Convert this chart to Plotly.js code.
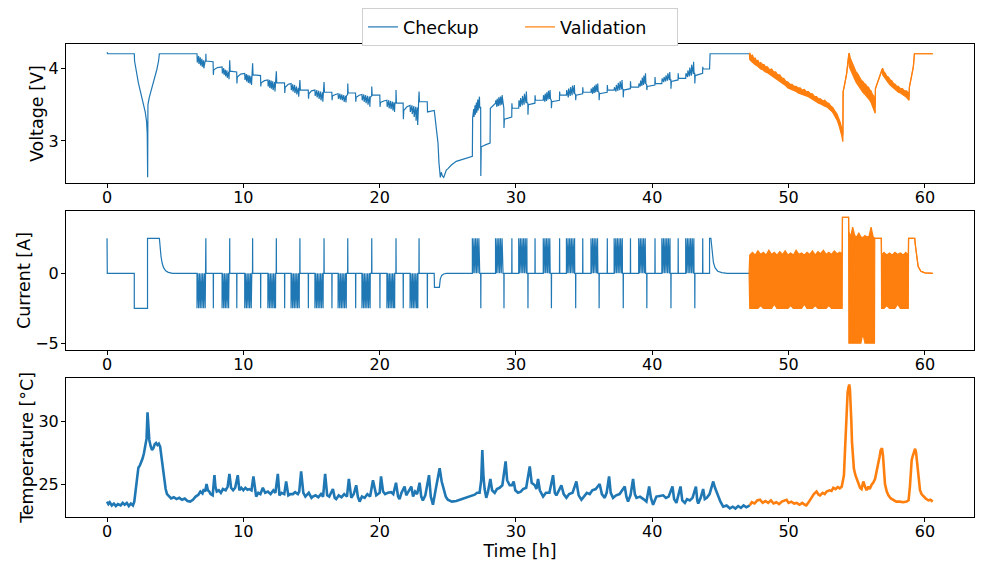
<!DOCTYPE html>
<html><head><meta charset="utf-8">
<script src="https://cdn.plot.ly/plotly-3.0.1.min.js"></script>
<style>html,body{margin:0;padding:0;background:#fff}#chart{width:984px;height:561px}</style>
</head><body><div id="chart"></div>
<script>
const xTicks = [0,10,20,30,40,50,60];
const seriesNames = ['Checkup','Validation'];

// Checkup voltage [time h, V]
const chkVoltage = [
[0,4.22],[0.04,4.2],[2.0,4.2],[2.02,4.1],[2.3,3.8],[2.6,3.56],[2.8,3.4],[2.9,3.27],[2.95,3.1],[2.98,2.5],[3.0,3.5],[3.1,3.6],[3.25,3.7],[3.45,3.83],[3.65,3.98],[3.78,4.1],[3.84,4.2],[6.6,4.2],
[6.62,4.08],[6.72,4.17],[6.74,4.06],[6.84,4.15],[6.86,4.04],[6.96,4.13],[6.98,4.02],[7.08,4.11],[7.1,4.0],[7.2,4.1],
[7.24,4.1],[7.25,4.2],[7.27,4.1],[7.78,4.09],[7.8,3.91],[7.83,3.98],[8.1,4.01],[8.44,4.02],
[8.46,3.93],[8.56,4.0],[8.58,3.91],[8.68,3.98],[8.7,3.89],[8.8,3.97],[8.82,3.87],[8.93,3.95],[8.95,3.85],[8.98,3.95],
[9.0,4.11],[9.03,3.96],[9.51,3.95],[9.53,3.79],[9.56,3.88],[9.8,3.92],[10.1,3.93],
[10.12,3.84],[10.22,3.92],[10.24,3.82],[10.34,3.91],[10.36,3.8],[10.46,3.9],[10.48,3.79],[10.58,3.89],[10.6,3.77],[10.63,3.88],
[10.68,4.07],[10.71,3.91],[11.26,3.9],[11.28,3.75],[11.31,3.8],[11.55,3.83],[11.8,3.84],
[11.82,3.75],[11.92,3.84],[11.94,3.73],[12.04,3.83],[12.06,3.72],[12.16,3.82],[12.18,3.7],[12.3,3.81],[12.32,3.68],[12.36,3.8],
[12.41,3.8],[12.42,3.96],[12.45,3.8],[13.02,3.8],[13.04,3.66],[13.07,3.74],[13.3,3.78],[13.5,3.79],
[13.52,3.7],[13.62,3.78],[13.64,3.68],[13.76,3.77],[13.78,3.66],[13.9,3.75],[13.92,3.64],[14.04,3.73],[14.06,3.61],[14.1,3.72],
[14.14,3.71],[14.15,3.84],[14.18,3.7],[14.76,3.7],[14.78,3.58],[14.81,3.65],[15.0,3.69],[15.25,3.7],
[15.27,3.62],[15.39,3.7],[15.41,3.6],[15.53,3.69],[15.55,3.58],[15.67,3.68],[15.69,3.56],[15.81,3.67],[15.83,3.54],[15.86,3.66],
[15.91,3.66],[15.92,3.81],[15.95,3.67],[16.49,3.67],[16.51,3.56],[16.54,3.62],[16.75,3.64],[16.95,3.65],
[16.97,3.58],[17.09,3.65],[17.11,3.57],[17.23,3.64],[17.25,3.56],[17.37,3.63],[17.39,3.54],[17.51,3.62],[17.53,3.53],[17.56,3.62],
[17.65,3.64],[17.66,3.79],[17.69,3.66],[18.23,3.66],[18.25,3.54],[18.28,3.6],[18.5,3.63],[18.7,3.64],
[18.72,3.56],[18.84,3.64],[18.86,3.54],[18.98,3.63],[19.0,3.52],[19.12,3.62],[19.14,3.5],[19.26,3.61],[19.28,3.47],[19.31,3.6],
[19.41,3.62],[19.42,3.75],[19.45,3.63],[20.01,3.63],[20.03,3.47],[20.06,3.53],[20.3,3.55],[20.53,3.56],
[20.55,3.47],[20.67,3.56],[20.69,3.45],[20.81,3.55],[20.83,3.44],[20.95,3.54],[20.97,3.42],[21.07,3.53],[21.09,3.4],[21.12,3.52],
[21.19,3.53],[21.2,3.7],[21.23,3.52],[21.72,3.52],[21.74,3.3],[21.77,3.42],[22.0,3.47],[22.23,3.49],
[22.25,3.4],[22.37,3.49],[22.39,3.37],[22.51,3.48],[22.53,3.33],[22.65,3.47],[22.67,3.28],[22.77,3.46],[22.79,3.22],[22.82,3.45],
[22.88,3.5],[22.89,3.68],[22.92,3.54],[23.49,3.54],[23.51,3.4],[23.7,3.41],[24.0,3.42],
[24.03,3.38],[24.15,3.2],[24.28,2.97],[24.35,2.7],[24.4,2.52],[24.45,2.5],[24.52,2.57],[24.6,2.52],[24.7,2.5],[24.77,2.54],[24.89,2.6],[25.01,2.62],[25.26,2.67],[25.62,2.72],[26.11,2.75],[26.6,2.78],[26.8,2.79],
[26.82,3.32],[26.9,3.44],[26.92,3.33],[27.0,3.49],[27.02,3.36],[27.1,3.53],[27.12,3.39],[27.2,3.57],[27.22,3.42],[27.32,3.61],[27.34,3.45],
[27.41,3.47],[27.42,2.52],[27.45,2.92],[27.8,2.95],[28.1,2.97],[28.12,3.45],[28.5,3.52],
[28.52,3.56],[28.6,3.47],[28.62,3.58],[28.72,3.48],[28.74,3.6],[28.84,3.49],[28.86,3.61],[28.96,3.5],[28.98,3.63],[29.05,3.5],
[29.11,3.45],[29.12,3.18],[29.15,3.3],[29.69,3.33],[29.7,3.52],[29.73,3.45],[30.2,3.45],
[30.22,3.56],[30.32,3.47],[30.34,3.59],[30.46,3.49],[30.48,3.62],[30.6,3.5],[30.62,3.65],[30.74,3.52],[30.76,3.68],[30.8,3.53],
[30.87,3.52],[30.88,3.36],[30.91,3.5],[31.39,3.52],[31.4,3.63],[31.43,3.56],[32.0,3.56],
[32.02,3.63],[32.12,3.54],[32.14,3.65],[32.24,3.55],[32.26,3.67],[32.36,3.57],[32.38,3.69],[32.48,3.58],[32.5,3.7],[32.53,3.58],
[32.59,3.56],[32.6,3.45],[32.63,3.54],[33.19,3.56],[33.2,3.68],[33.23,3.63],[33.7,3.63],
[33.72,3.7],[33.84,3.6],[33.86,3.72],[33.98,3.62],[34.0,3.74],[34.12,3.63],[34.14,3.76],[34.26,3.65],[34.28,3.77],[34.31,3.65],
[34.37,3.64],[34.38,3.56],[34.41,3.63],[34.89,3.65],[34.9,3.74],[34.93,3.67],[35.5,3.67],
[35.52,3.72],[35.62,3.65],[35.64,3.74],[35.74,3.66],[35.76,3.76],[35.86,3.67],[35.88,3.78],[35.98,3.68],[36.0,3.79],[36.03,3.68],
[36.09,3.67],[36.1,3.56],[36.13,3.65],[36.69,3.67],[36.7,3.77],[36.73,3.7],[37.2,3.7],
[37.22,3.74],[37.34,3.68],[37.36,3.77],[37.48,3.69],[37.5,3.8],[37.62,3.7],[37.64,3.82],[37.76,3.71],[37.78,3.84],[37.81,3.72],
[37.86,3.71],[37.87,3.6],[37.9,3.7],[38.39,3.72],[38.4,3.82],[38.43,3.74],[39.0,3.74],
[39.02,3.79],[39.12,3.75],[39.14,3.83],[39.24,3.76],[39.26,3.87],[39.36,3.77],[39.38,3.9],[39.48,3.79],[39.5,3.93],[39.53,3.79],
[39.59,3.77],[39.6,3.7],[39.63,3.75],[40.19,3.77],[40.2,3.88],[40.23,3.79],[40.7,3.79],
[40.72,3.86],[40.84,3.81],[40.86,3.88],[40.98,3.82],[41.0,3.9],[41.12,3.83],[41.14,3.93],[41.26,3.84],[41.28,3.95],[41.31,3.84],
[41.36,3.84],[41.37,3.72],[41.4,3.82],[41.89,3.84],[41.9,3.93],[41.93,3.86],[42.45,3.86],
[42.47,3.93],[42.59,3.88],[42.61,3.97],[42.73,3.89],[42.75,4.01],[42.87,3.9],[42.89,4.05],[43.01,3.92],[43.03,4.09],[43.06,3.93],
[43.11,3.93],[43.12,3.79],[43.15,3.9],[43.69,3.93],[43.7,4.02],[43.73,3.99],[44.2,3.99],[44.24,4.2],[47.15,4.2]
];

// Checkup current [time h, A]
const chkCurrent = [
[0,2.5],[0.02,0],[2.0,0],[2.0,-2.5],[2.97,-2.5],[2.97,2.5],[3.84,2.5],[3.9,1.8],[3.96,1.2],[4.05,0.7],[4.15,0.4],[4.3,0.18],[4.5,0.07],[4.8,0],[6.6,0],
[6.6,-2.5],[6.66,0],[6.72,-2.5],[6.78,0],[6.84,-2.5],[6.9,0],[6.96,-2.5],[7.02,0],[7.08,-2.5],[7.14,0],[7.2,-2.5],[7.21,0],[7.24,0],[7.25,2.5],[7.26,0],[7.79,0],[7.8,-2.5],[7.81,0],
[8.44,0],[8.44,-2.5],[8.5,0],[8.56,-2.5],[8.62,0],[8.68,-2.5],[8.74,0],[8.8,-2.5],[8.86,0],[8.92,-2.5],[8.95,0],[8.99,0],[9.0,2.5],[9.01,0],[9.51,0],[9.52,-2.5],[9.53,0],
[10.1,0],[10.1,-2.5],[10.16,0],[10.22,-2.5],[10.28,0],[10.34,-2.5],[10.4,0],[10.46,-2.5],[10.52,0],[10.58,-2.5],[10.62,0],[10.67,0],[10.68,2.5],[10.69,0],[11.26,0],[11.27,-2.5],[11.28,0],
[11.8,0],[11.8,-2.5],[11.86,0],[11.92,-2.5],[11.98,0],[12.04,-2.5],[12.1,0],[12.16,-2.5],[12.22,0],[12.28,-2.5],[12.34,0],[12.36,-2.5],[12.37,0],[12.41,0],[12.42,2.5],[12.43,0],[13.02,0],[13.03,-2.5],[13.04,0],
[13.5,0],[13.5,-2.5],[13.56,0],[13.62,-2.5],[13.68,0],[13.74,-2.5],[13.8,0],[13.86,-2.5],[13.92,0],[13.98,-2.5],[14.04,0],[14.1,-2.5],[14.11,0],[14.14,0],[14.15,2.5],[14.16,0],[14.76,0],[14.77,-2.5],[14.78,0],
[15.25,0],[15.25,-2.5],[15.31,0],[15.37,-2.5],[15.43,0],[15.49,-2.5],[15.55,0],[15.61,-2.5],[15.67,0],[15.73,-2.5],[15.79,0],[15.85,-2.5],[15.86,0],[15.91,0],[15.92,2.5],[15.93,0],[16.49,0],[16.5,-2.5],[16.51,0],
[16.95,0],[16.95,-2.5],[17.01,0],[17.07,-2.5],[17.13,0],[17.19,-2.5],[17.25,0],[17.31,-2.5],[17.37,0],[17.43,-2.5],[17.49,0],[17.55,-2.5],[17.56,0],[17.65,0],[17.66,2.5],[17.67,0],[18.23,0],[18.24,-2.5],[18.25,0],
[18.7,0],[18.7,-2.5],[18.76,0],[18.82,-2.5],[18.88,0],[18.94,-2.5],[19.0,0],[19.06,-2.5],[19.12,0],[19.18,-2.5],[19.24,0],[19.3,-2.5],[19.31,0],[19.41,0],[19.42,2.5],[19.43,0],[20.01,0],[20.02,-2.5],[20.03,0],
[20.53,0],[20.53,-2.5],[20.59,0],[20.65,-2.5],[20.71,0],[20.77,-2.5],[20.83,0],[20.89,-2.5],[20.95,0],[21.01,-2.5],[21.07,0],[21.1,-2.5],[21.11,0],[21.19,0],[21.2,2.5],[21.21,0],[21.72,0],[21.73,-2.5],[21.74,0],
[22.23,0],[22.23,-2.5],[22.29,0],[22.35,-2.5],[22.41,0],[22.47,-2.5],[22.53,0],[22.59,-2.5],[22.65,0],[22.71,-2.5],[22.77,0],[22.8,-2.5],[22.81,0],[22.88,0],[22.89,2.5],[22.9,0],[23.49,0],[23.5,-2.5],[23.51,0],
[24.0,0],[24.02,-1.0],[24.38,-1.0],[24.45,-0.4],[24.55,-0.15],[24.7,-0.05],[24.9,0],[26.8,0],
[26.8,2.5],[26.86,0],[26.92,2.5],[26.98,0],[27.04,2.5],[27.1,0],[27.16,2.5],[27.22,0],[27.28,2.5],[27.34,0],[27.41,0],[27.42,-2.5],[27.43,0],[28.5,0],
[28.5,2.5],[28.56,0],[28.62,2.5],[28.68,0],[28.74,2.5],[28.8,0],[28.86,2.5],[28.92,0],[28.98,2.5],[29.05,0],[29.11,0],[29.12,-2.5],[29.13,0],[29.69,0],[29.7,2.5],[29.71,0],[30.2,0],
[30.2,2.5],[30.26,0],[30.32,2.5],[30.38,0],[30.44,2.5],[30.5,0],[30.56,2.5],[30.62,0],[30.68,2.5],[30.74,0],[30.8,2.5],[30.81,0],[30.87,0],[30.88,-2.5],[30.89,0],[31.39,0],[31.4,2.5],[31.41,0],[32.0,0],
[32.0,2.5],[32.06,0],[32.12,2.5],[32.18,0],[32.24,2.5],[32.3,0],[32.36,2.5],[32.42,0],[32.48,2.5],[32.51,0],[32.59,0],[32.6,-2.5],[32.61,0],[33.19,0],[33.2,2.5],[33.21,0],[33.7,0],
[33.7,2.5],[33.76,0],[33.82,2.5],[33.88,0],[33.94,2.5],[34.0,0],[34.06,2.5],[34.12,0],[34.18,2.5],[34.24,0],[34.3,2.5],[34.31,0],[34.37,0],[34.38,-2.5],[34.39,0],[34.89,0],[34.9,2.5],[34.91,0],[35.5,0],
[35.5,2.5],[35.56,0],[35.62,2.5],[35.68,0],[35.74,2.5],[35.8,0],[35.86,2.5],[35.92,0],[35.98,2.5],[36.01,0],[36.09,0],[36.1,-2.5],[36.11,0],[36.69,0],[36.7,2.5],[36.71,0],[37.2,0],
[37.2,2.5],[37.26,0],[37.32,2.5],[37.38,0],[37.44,2.5],[37.5,0],[37.56,2.5],[37.62,0],[37.68,2.5],[37.74,0],[37.8,2.5],[37.81,0],[37.86,0],[37.87,-2.5],[37.88,0],[38.39,0],[38.4,2.5],[38.41,0],[39.0,0],
[39.0,2.5],[39.06,0],[39.12,2.5],[39.18,0],[39.24,2.5],[39.3,0],[39.36,2.5],[39.42,0],[39.48,2.5],[39.51,0],[39.59,0],[39.6,-2.5],[39.61,0],[40.19,0],[40.2,2.5],[40.21,0],[40.7,0],
[40.7,2.5],[40.76,0],[40.82,2.5],[40.88,0],[40.94,2.5],[41.0,0],[41.06,2.5],[41.12,0],[41.18,2.5],[41.24,0],[41.3,2.5],[41.31,0],[41.36,0],[41.37,-2.5],[41.38,0],[41.89,0],[41.9,2.5],[41.91,0],[42.45,0],
[42.45,2.5],[42.51,0],[42.57,2.5],[42.63,0],[42.69,2.5],[42.75,0],[42.81,2.5],[42.87,0],[42.93,2.5],[42.99,0],[43.05,2.5],[43.06,0],[43.11,0],[43.12,-2.5],[43.13,0],[43.69,0],[43.7,2.5],[43.71,0],[44.2,0],
[44.2,2.5],[44.3,2.5],[44.38,1.5],[44.48,0.8],[44.6,0.4],[44.8,0.15],[45.1,0.05],[45.5,0],[47.15,0]
];

// Checkup temperature [time h, degC]
const chkTemperature = [
[0.0,23.6],[0.1,23.4],[0.2,23.55],[0.35,23.3],[0.5,23.45],[0.65,23.25],[0.8,23.4],[1.0,23.3],[1.15,23.5],[1.3,23.35],[1.45,23.5],[1.6,23.25],[1.75,23.45],[1.9,23.3],[2.0,23.6],
[2.1,24.6],[2.2,25.8],[2.3,26.3],[2.4,26.45],[2.5,26.7],[2.6,27.0],[2.7,27.4],[2.8,27.9],[2.9,28.6],[2.97,30.7],[3.03,29.2],[3.1,28.5],[3.2,28.0],[3.3,27.7],[3.4,27.85],[3.5,28.15],[3.6,28.25],[3.7,28.1],[3.8,28.2],[3.9,27.95],
[4.0,27.1],[4.1,26.3],[4.2,25.3],[4.3,24.6],[4.4,24.2],[4.5,24.05],[4.7,23.85],[4.9,23.95],[5.1,23.8],[5.3,23.9],[5.5,23.75],[5.7,23.85],[5.9,23.65],[6.1,23.6],[6.3,23.75],[6.5,24.0],[6.7,24.15],[6.85,24.4],[7.0,24.25],[7.1,24.6],[7.2,24.4],[7.3,25.0],[7.4,24.5],[7.5,24.4],[7.6,24.2],[7.75,24.1],[7.88,25.7],[7.95,24.8],
[8.05,24.4],[8.2,24.5],[8.35,24.3],[8.5,24.6],[8.7,24.5],[8.85,24.8],[8.98,25.8],[9.1,24.7],[9.25,24.5],[9.4,24.7],[9.59,25.7],[9.71,24.5],[9.85,24.7],[10.0,24.5],[10.15,24.7],[10.3,24.55],[10.45,24.6],[10.6,24.5],[10.74,25.6],[10.94,24.0],
[11.1,24.3],[11.25,24.2],[11.43,24.7],[11.6,24.3],[11.8,24.4],[12.0,24.2],[12.2,24.5],[12.35,24.3],[12.53,25.8],[12.65,24.1],[12.8,24.3],[13.0,24.2],[13.14,25.2],[13.3,24.1],[13.45,24.2],[13.63,24.2],[13.8,24.35],[14.0,24.2],[14.1,24.4],[14.24,26.0],[14.4,24.3],[14.55,24.0],[14.8,24.3],
[15.0,23.9],[15.1,24.0],[15.3,24.1],[15.5,23.95],[15.7,24.2],[15.85,24.0],[16.0,25.8],[16.15,24.1],[16.3,24.0],[16.57,24.6],[16.7,23.9],[16.81,23.8],[17.0,24.1],[17.2,23.95],[17.4,24.2],[17.6,24.0],[17.74,25.4],[17.92,23.9],[18.1,24.2],[18.28,24.9],[18.4,24.0],[18.53,23.6],[18.7,24.0],[18.9,23.9],[19.1,24.2],[19.3,24.0],[19.51,25.3],[19.75,24.1],
[20.0,24.3],[20.1,25.6],[20.25,24.4],[20.4,24.2],[20.6,24.3],[20.85,24.35],[21.0,24.2],[21.2,25.1],[21.35,24.0],[21.46,23.8],[21.6,24.3],[21.83,24.8],[21.95,24.1],[22.1,24.4],[22.32,24.8],[22.45,24.0],[22.6,24.4],[22.75,24.2],[22.93,25.1],[23.05,24.0],[23.17,23.7],[23.35,24.1],[23.62,25.7],[23.75,24.0],[23.91,23.35],
[24.1,24.5],[24.25,25.3],[24.4,26.25],[24.55,25.2],[24.7,24.5],[24.85,24.0],[25.0,23.75],[25.3,23.6],[25.62,23.65],[25.9,23.75],[26.1,23.85],[26.36,23.9],[26.6,24.0],[26.8,24.1],[26.97,24.15],[27.15,24.3],[27.33,24.3],[27.45,25.3],[27.53,27.7],[27.62,25.5],[27.7,24.6],[27.82,23.9],[27.95,24.4],
[28.12,25.4],[28.25,24.5],[28.44,24.3],[28.6,24.6],[28.8,24.7],[29.0,24.9],[29.24,26.8],[29.35,25.3],[29.54,24.9],[29.7,24.9],[29.83,25.2],[29.95,24.5],[30.15,24.3],[30.35,24.4],[30.52,24.6],[30.75,24.7],[31.01,26.4],[31.15,25.1],[31.38,24.9],[31.5,24.6],[31.62,25.4],[31.75,24.5],[31.99,24.0],
[32.2,24.3],[32.45,24.3],[32.72,25.7],[32.85,24.3],[32.96,24.1],[33.15,24.5],[33.33,24.9],[33.5,24.2],[33.7,23.9],[33.9,24.2],[34.15,24.3],[34.43,25.2],[34.6,24.1],[34.8,23.75],[35.0,24.0],[35.2,24.3],[35.41,24.2],[35.6,24.5],[35.85,24.6],[36.14,25.0],[36.3,24.2],[36.51,23.9],[36.65,24.3],[36.83,25.6],[36.95,24.3],
[37.12,23.9],[37.35,24.1],[37.6,24.2],[37.98,24.8],[38.1,24.0],[38.22,23.6],[38.4,24.1],[38.59,25.4],[38.72,24.2],[38.84,23.9],[39.1,24.0],[39.35,23.8],[39.57,23.6],[39.77,24.8],[39.9,23.9],[40.06,23.35],[40.3,24.0],[40.55,24.05],[40.8,24.1],[41.0,23.9],[41.2,24.0],[41.48,24.8],[41.6,23.8],[41.77,23.5],[41.9,24.0],
[42.07,24.8],[42.2,23.7],[42.39,23.5],[42.55,23.8],[42.75,23.7],[42.95,23.9],[43.2,24.8],[43.3,23.7],[43.37,23.45],[43.55,23.9],[43.73,24.6],[43.85,23.8],[44.0,23.9],[44.2,24.2],[44.47,25.2],[44.6,24.7],[44.84,24.0],[45.0,23.6],[45.2,23.2],[45.45,23.3],[45.69,23.07],[45.9,23.2],[46.1,23.05],[46.3,23.25],[46.5,23.1],[46.7,23.3],[46.9,23.15],[47.15,23.3]
];

// Validation voltage [time h, upper V, lower V] (noise band)
const valVoltage = [
[47.12,4.2,4.2],[47.15,4.21,4.12],[47.25,4.17,4.1],[47.35,4.18,4.08],[47.45,4.13,4.07],[47.55,4.14,4.05],[47.65,4.1,4.04],[47.75,4.11,4.02],[47.85,4.07,4.01],[47.95,4.08,3.99],[48.1,4.05,3.98],[48.2,4.05,3.96],[48.3,4.02,3.95],[48.45,4.02,3.94],[48.6,3.98,3.92],[48.75,3.99,3.9],[48.9,3.95,3.88],[49.05,3.95,3.87],[49.2,3.91,3.85],[49.35,3.91,3.83],[49.5,3.87,3.81],[49.65,3.86,3.78],[49.8,3.82,3.76],[49.95,3.81,3.73],[50.1,3.78,3.72],[50.25,3.78,3.7],[50.4,3.75,3.69],[50.55,3.75,3.68],[50.7,3.73,3.66],[50.85,3.73,3.65],[51.0,3.7,3.64],[51.15,3.71,3.64],[51.3,3.68,3.62],[51.45,3.68,3.61],[51.6,3.65,3.59],[51.75,3.65,3.57],[51.9,3.61,3.56],[52.05,3.61,3.54],[52.2,3.58,3.52],[52.35,3.58,3.51],[52.5,3.55,3.49],[52.65,3.56,3.48],[52.8,3.53,3.47],[52.95,3.52,3.45],[53.1,3.48,3.42],[53.25,3.46,3.39],[53.4,3.41,3.34],[53.55,3.37,3.29],[53.7,3.3,3.21],[53.8,3.25,3.15],[53.9,3.17,3.07],[53.98,3.08,2.99],
[54.0,3.68,3.68],[54.1,3.76,3.76],[54.26,3.93,3.93],[54.42,4.2,4.2],
[54.45,4.21,4.02],[54.52,4.14,3.99],[54.6,4.1,3.95],[54.68,4.06,3.91],[54.76,4.02,3.88],[54.85,3.99,3.85],[54.95,3.95,3.81],[55.05,3.93,3.78],[55.15,3.89,3.76],[55.25,3.87,3.72],[55.35,3.83,3.7],[55.45,3.82,3.67],[55.55,3.79,3.65],[55.65,3.78,3.63],[55.75,3.75,3.6],[55.86,3.74,3.58],[55.96,3.7,3.56],[56.05,3.69,3.53],[56.15,3.64,3.48],[56.25,3.62,3.45],[56.32,3.53,3.4],[56.35,3.5,3.38],
[56.37,3.72,3.72],[56.5,3.79,3.79],[56.66,3.86,3.86],[56.86,3.99,3.99],
[56.9,4.0,3.91],[57.0,3.95,3.88],[57.1,3.93,3.85],[57.2,3.89,3.82],[57.32,3.88,3.8],[57.45,3.84,3.77],[57.57,3.83,3.75],[57.7,3.79,3.72],[57.82,3.78,3.7],[57.93,3.75,3.68],[58.05,3.75,3.67],[58.2,3.72,3.66],[58.35,3.72,3.64],[58.5,3.69,3.63],[58.65,3.69,3.6],[58.79,3.66,3.57],[58.84,3.62,3.56],
[58.86,3.74,3.74],[59.0,3.86,3.86],[59.15,4.02,4.02],[59.23,4.2,4.2],[60.58,4.2,4.2]
];

// Validation current [time h, upper A, lower A] (pulse band)
const valCurrent = [
[47.10,0,0],[47.15,1.3,-2.5],[47.35,1.5,-2.5],[47.55,1.3,-2.5],[47.75,1.6,-2.5],[47.95,1.35,-2.3],[48.15,1.5,-2.5],[48.35,1.3,-2.5],[48.55,1.65,-2.5],[48.75,1.35,-2.5],[48.95,1.5,-2.2],[49.15,1.3,-2.5],[49.35,1.55,-2.5],[49.55,1.35,-2.5],[49.75,1.6,-2.5],[49.95,1.3,-2.5],[50.15,1.45,-2.3],[50.35,1.3,-2.5],[50.55,1.65,-2.5],[50.75,1.35,-2.5],[50.95,1.45,-2.5],[51.15,1.3,-2.2],[51.35,1.5,-2.5],[51.55,1.35,-2.5],[51.75,1.6,-2.5],[51.95,1.3,-2.3],[52.15,1.55,-2.5],[52.35,1.4,-2.5],[52.55,1.65,-2.5],[52.75,1.35,-2.5],[52.95,1.5,-2.3],[53.15,1.35,-2.5],[53.35,1.6,-2.5],[53.55,1.4,-2.5],[53.75,1.5,-2.5],[53.93,1.4,-2.5],
[53.95,4.0,4.0],[54.40,4.0,4.0],
[54.42,3.0,-5.0],[54.55,2.6,-5.0],[54.70,3.3,-5.0],[54.85,2.7,-5.0],[55.00,2.6,-5.0],[55.15,2.9,-5.0],[55.30,2.6,-5.0],[55.45,2.55,-4.3],[55.60,2.7,-5.0],[55.75,2.6,-5.0],[55.90,2.65,-5.0],[56.05,3.3,-5.0],[56.20,2.6,-5.0],[56.30,2.5,-5.0],
[56.32,2.5,2.5],[56.80,2.5,2.5],
[56.82,1.3,-2.5],[57.00,1.5,-2.5],[57.20,1.3,-2.3],[57.40,1.45,-2.5],[57.60,1.3,-2.5],[57.80,1.5,-2.5],[58.00,1.35,-2.2],[58.20,1.45,-2.5],[58.40,1.3,-2.5],[58.60,1.5,-2.5],[58.78,1.3,-2.5],
[58.80,2.5,2.5],[59.25,2.5,2.5],[59.30,2.0,2.0],[59.40,1.0,1.0],[59.50,0.5,0.5],[59.70,0.15,0.15],[60.00,0.03,0.03],[60.58,0,0]
];

// Validation temperature [time h, degC]
const valTemperature = [
[47.15,23.3],[47.3,23.55],[47.5,23.45],[47.7,23.7],[47.9,23.75],[48.1,23.5],[48.3,23.65],[48.5,23.5],[48.7,23.7],[48.9,23.45],[49.1,23.55],[49.3,23.4],[49.5,23.6],[49.7,23.7],[49.85,23.75],[50.0,23.5],[50.2,23.6],[50.4,23.45],[50.6,23.5],[50.8,23.35],[51.0,23.5],[51.2,23.35],[51.3,23.3],[51.5,23.6],[51.69,23.9],[51.85,24.2],[52.05,24.4],[52.2,24.15],[52.3,24.1],[52.5,24.3],[52.65,24.2],[52.79,24.4],[53.0,24.5],[53.15,24.45],[53.28,24.7],[53.45,24.6],[53.6,24.75],[53.75,24.65],[53.9,24.8],
[54.0,25.3],[54.06,25.7],[54.13,27.5],[54.2,29.7],[54.27,31.2],[54.33,32.3],[54.4,32.7],[54.45,32.9],[54.5,32.5],[54.55,31.5],[54.6,30.0],[54.65,28.3],[54.72,27.0],[54.79,26.2],[54.9,25.7],[54.99,25.4],[55.1,25.2],[55.24,24.7],[55.35,24.6],[55.48,25.2],[55.6,24.8],[55.72,24.5],[55.85,24.8],[55.95,24.6],[56.09,24.95],[56.2,25.1],[56.34,25.4],
[56.45,25.9],[56.58,26.5],[56.68,27.2],[56.76,27.7],[56.85,27.85],[56.92,27.3],[56.98,26.5],[57.07,25.0],[57.2,24.4],[57.32,24.1],[57.5,23.85],[57.69,23.7],[57.9,23.6],[58.17,23.6],[58.4,23.55],[58.66,23.6],[58.8,23.7],[58.9,24.8],[58.96,26.2],[59.03,26.9],[59.1,27.2],[59.2,27.6],[59.28,27.8],[59.35,27.5],[59.4,27.0],[59.46,26.3],[59.52,25.7],[59.58,25.0],[59.64,24.5],[59.75,24.2],[59.89,24.0],[60.05,23.85],[60.26,23.7],[60.4,23.75],[60.57,23.6]
];

const BLUE = '#1f77b4', ORANGE = '#ff7f0e';
const col = (a, i) => a.map(r => r[i]);

const traces = [
  {x: col(chkVoltage,0), y: col(chkVoltage,1), xaxis:'x', yaxis:'y', mode:'lines', line:{color:BLUE, width:1.2}, name:seriesNames[0], showlegend:true, hoverinfo:'skip'},
  {x: col(valVoltage,0), y: col(valVoltage,2), xaxis:'x', yaxis:'y', mode:'lines', line:{color:ORANGE, width:1.2}, name:seriesNames[1], showlegend:true, hoverinfo:'skip'},
  {x: col(valVoltage,0), y: col(valVoltage,1), xaxis:'x', yaxis:'y', mode:'lines', line:{color:ORANGE, width:1.2}, fill:'tonexty', fillcolor:ORANGE, showlegend:false, hoverinfo:'skip'},
  {x: col(chkCurrent,0), y: col(chkCurrent,1), xaxis:'x2', yaxis:'y2', mode:'lines', line:{color:BLUE, width:1.2}, showlegend:false, hoverinfo:'skip'},
  {x: col(valCurrent,0), y: col(valCurrent,2), xaxis:'x2', yaxis:'y2', mode:'lines', line:{color:ORANGE, width:1.2}, showlegend:false, hoverinfo:'skip'},
  {x: col(valCurrent,0), y: col(valCurrent,1), xaxis:'x2', yaxis:'y2', mode:'lines', line:{color:ORANGE, width:1.2}, fill:'tonexty', fillcolor:ORANGE, showlegend:false, hoverinfo:'skip'},
  {x: col(chkTemperature,0), y: col(chkTemperature,1), xaxis:'x3', yaxis:'y3', mode:'lines', line:{color:BLUE, width:2.6}, showlegend:false, hoverinfo:'skip'},
  {x: col(valTemperature,0), y: col(valTemperature,1), xaxis:'x3', yaxis:'y3', mode:'lines', line:{color:ORANGE, width:2.6}, showlegend:false, hoverinfo:'skip'}
];

const baseX = {
  range:[-3.01, 63.6], tickvals:xTicks, ticktext:xTicks.map(String), ticks:'outside', ticklen:4, tickwidth:1, tickcolor:'#000',
  showline:true, mirror:true, linecolor:'#000', linewidth:1, showgrid:false, zeroline:false, fixedrange:true,
  tickfont:{size:16, color:'#000'}, ticklabelstandoff:-4
};
const baseY = {
  ticks:'outside', ticklen:4, tickwidth:1, tickcolor:'#000', showline:true, mirror:true, linecolor:'#000', linewidth:1,
  showgrid:false, zeroline:false, fixedrange:true, tickfont:{size:16, color:'#000'}, ticklabelstandoff:-1
};

const layout = {
  width:984, height:561,
  margin:{l:66, r:10, t:44, b:44, autoexpand:false},
  paper_bgcolor:'#fff', plot_bgcolor:'#fff',
  font:{family:'DejaVu Sans, sans-serif', size:16, color:'#000'},
  showlegend:true,
  legend:{orientation:'h', traceorder:'normal', xref:'container', yref:'container', x:0.5285, xanchor:'center', y:0.9857, yanchor:'top', bordercolor:'#d0d0d0', borderwidth:1, bgcolor:'#fff', font:{size:17.5}, entrywidth:112},
  xaxis: Object.assign({}, baseX, {domain:[0,1], anchor:'y'}),
  xaxis2: Object.assign({}, baseX, {domain:[0,1], anchor:'y2'}),
  xaxis3: Object.assign({}, baseX, {domain:[0,1], anchor:'y3', title:{text:'Time [h]', font:{size:17.5}, standoff:0}}),
  yaxis: Object.assign({}, baseY, {domain:[0.7055,1], anchor:'x', range:[2.418,4.334], tickvals:[3,4], title:{text:'Voltage [V]', font:{size:17.5}, standoff:0}}),
  yaxis2: Object.assign({}, baseY, {domain:[0.3531,0.6469], anchor:'x2', range:[-5.48,4.45], tickvals:[-5,0], title:{text:'Current [A]', font:{size:17.5}, standoff:0}}),
  yaxis3: Object.assign({}, baseY, {domain:[0,0.2945], anchor:'x3', range:[22.38,33.44], tickvals:[25,30], title:{text:'Temperature [°C]', font:{size:17.5}, standoff:0}})
};

Plotly.newPlot('chart', traces, layout, {displayModeBar:false, staticPlot:true});
</script></body></html>
